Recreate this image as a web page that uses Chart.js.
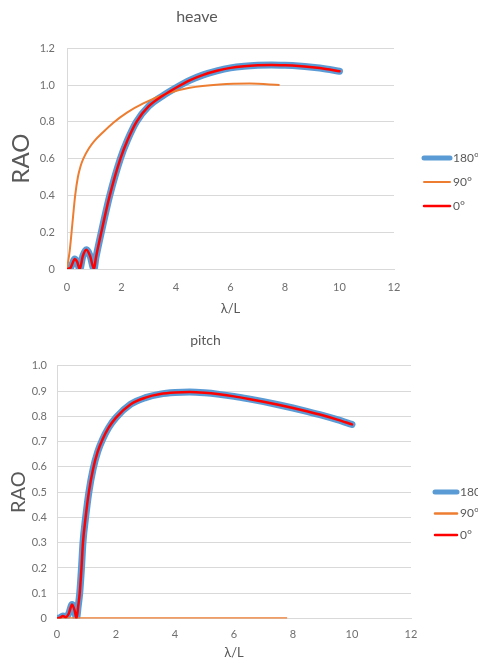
<!DOCTYPE html>
<html lang="en">
<head>
    <meta charset="UTF-8">
    <title>RAO</title>
    <style>
        html, body { margin: 0; padding: 0; background: #fff; overflow: hidden; }
        .box { position: relative; width: 478px; }
    </style>
</head>
<body>
    <div class="box" style="height: 330px;"><canvas id="heaveChart"></canvas></div>
    <div class="box" style="height: 329px;"><canvas id="pitchChart"></canvas></div>

<script src="https://cdn.jsdelivr.net/npm/chart.js"></script>
<script>
// heave, head/following seas (180 and 0 lie on top of each other)
const heaveHeadX = [0, 0.12, 0.2, 0.28, 0.37, 0.47, 0.58, 0.71, 0.85, 0.99, 1.06, 1.26, 1.57, 1.96, 2.22, 2.55, 3, 3.5, 4, 4.5, 5, 5.5, 6, 6.5, 7, 7.5, 8, 8.5, 9, 9.5, 10]
const heave180 = [0, 0.005, 0.03, 0.055, 0.04, 0, 0.07, 0.105, 0.07, 0, 0.06, 0.2, 0.4, 0.6, 0.7, 0.8, 0.885, 0.94, 0.985, 1.025, 1.055, 1.077, 1.093, 1.102, 1.107, 1.109, 1.107, 1.103, 1.096, 1.087, 1.075]
const heave0 = [0, 0.005, 0.03, 0.055, 0.04, 0, 0.07, 0.105, 0.07, 0, 0.06, 0.2, 0.4, 0.6, 0.7, 0.8, 0.885, 0.94, 0.985, 1.025, 1.055, 1.077, 1.093, 1.102, 1.107, 1.109, 1.107, 1.103, 1.096, 1.087, 1.075]
// heave, beam seas
const heaveBeamX = [0, 0.1, 0.2, 0.3, 0.4, 0.5, 0.6, 0.8, 1.0, 1.3, 1.7, 2.2, 2.8, 3.7, 4.5, 5.6, 6.7, 7.8]
const heave90 = [0, 0.1, 0.25, 0.4, 0.5, 0.56, 0.6, 0.655, 0.695, 0.74, 0.795, 0.85, 0.9, 0.955, 0.985, 1.003, 1.008, 1.0]

// pitch
const pitchHeadX = [0, 0.1, 0.2, 0.3, 0.4, 0.51, 0.6, 0.66, 0.72, 0.77, 0.83, 0.88, 0.97, 1.08, 1.22, 1.38, 1.55, 1.75, 2, 2.5, 3, 3.5, 4, 4.5, 5, 5.5, 6, 6.5, 7, 7.5, 8, 8.5, 9, 9.5, 10]
const pitch180 = [0, 0.003, 0.01, 0.005, 0.02, 0.055, 0.03, 0, 0.05, 0.1, 0.2, 0.3, 0.4, 0.5, 0.59, 0.66, 0.71, 0.755, 0.795, 0.848, 0.874, 0.888, 0.894, 0.896, 0.893, 0.887, 0.879, 0.869, 0.858, 0.846, 0.833, 0.819, 0.804, 0.787, 0.768]
const pitch0 = [0, 0.003, 0.01, 0.005, 0.02, 0.055, 0.03, 0, 0.05, 0.1, 0.2, 0.3, 0.4, 0.5, 0.59, 0.66, 0.71, 0.755, 0.795, 0.848, 0.874, 0.888, 0.894, 0.896, 0.893, 0.887, 0.879, 0.869, 0.858, 0.846, 0.833, 0.819, 0.804, 0.787, 0.768]
const pitchBeamX = [0, 2, 4, 6, 7.8]
const pitch90 = [0, 0, 0, 0, 0]

const seriesNames = ['180°', '90°', '0°']
const xTicks = [0, 2, 4, 6, 8, 10, 12]

Chart.defaults.font.family = 'Lato, "Liberation Sans", sans-serif'
Chart.defaults.color = '#6f6f6f'

function pts(xs, ys){
    return xs.map((x, i) => ({x: x, y: ys[i]}))
}

// legend on the right, drawn by hand (line + label)
const sideLegend = {
    id: 'sideLegend',
    afterDraw(chart, args, o){
        const ctx = chart.ctx
        ctx.save()
        chart.data.datasets.forEach((ds, i) => {
            const y = o.y + i * o.gap
            ctx.strokeStyle = ds.borderColor
            ctx.lineWidth = Math.min(ds.borderWidth, 5)
            ctx.lineCap = 'round'
            ctx.beginPath()
            ctx.moveTo(o.x + 2, y)
            ctx.lineTo(o.x + o.len - 2, y)
            ctx.stroke()
            ctx.fillStyle = '#595959'
            ctx.font = '12px Lato, "Liberation Sans", sans-serif'
            ctx.textBaseline = 'middle'
            ctx.fillText(ds.label, o.x + o.len + 1, y)
        })
        ctx.restore()
    }
}

function makeSets(x1, y180, x2, y90, y0, beamWidth){
    return [
        {label: seriesNames[0], data: pts(x1, y180), borderColor: '#5b9bd5', borderWidth: 7, borderCapStyle: 'round', order: 2},
        {label: seriesNames[1], data: pts(x2, y90), borderColor: '#ed7d31', borderWidth: beamWidth, order: 1},
        {label: seriesNames[2], data: pts(x1, y0), borderColor: '#ff0000', borderWidth: 2.5, borderCapStyle: 'round', order: 0}
    ]
}

function makeChart(id, title, sets, o){
    return new Chart(document.getElementById(id), {
        type: 'line',
        data: {datasets: sets},
        options: {
            responsive: true,
            maintainAspectRatio: false,
            animation: false,
            layout: {padding: {left: 0, right: o.right, top: 0, bottom: o.bottom}},
            elements: {
                point: {radius: 0},
                line: {cubicInterpolationMode: 'monotone', fill: false}
            },
            scales: {
                x: {
                    type: 'linear', min: 0, max: 12,
                    afterBuildTicks: s => { s.ticks = xTicks.map(v => ({value: v})) },
                    afterFit: s => { s.height = o.xHeight },
                    grid: {display: false, drawTicks: false},
                    border: {display: true, color: '#d9d9d9'},
                    ticks: {padding: o.xPad, font: {size: 11}, color: '#6f6f6f'},
                    title: {display: true, text: 'λ/L', color: '#595959',
                        font: {size: 13, lineHeight: 1}, padding: {top: 4, bottom: 0}}
                },
                y: {
                    min: 0, max: o.yMax,
                    afterBuildTicks: s => { s.ticks = o.yTicks.map(v => ({value: v})) },
                    afterFit: s => { s.width = o.left },
                    grid: {color: '#d9d9d9', drawTicks: false},
                    border: {display: true, color: '#d9d9d9'},
                    ticks: {padding: o.yPad, font: {size: 11}, color: '#6f6f6f'},
                    title: {display: true, text: 'RAO', color: '#595959',
                        font: {size: o.raoSize}, padding: {top: 7, bottom: 0}}
                }
            },
            plugins: {
                legend: {display: false},
                tooltip: {enabled: false},
                title: {display: true, text: title, color: '#595959',
                    font: {size: o.titleSize, weight: 'normal'}, padding: o.titlePad},
                sideLegend: o.legend
            }
        },
        plugins: [sideLegend]
    })
}

makeChart('heaveChart', 'heave', makeSets(heaveHeadX, heave180, heaveBeamX, heave90, heave0, 2), {
    right: 84, bottom: 15, left: 67, xHeight: 46, xPad: 12, yPad: 12,
    yMax: 1.2, yTicks: [0, 0.2, 0.4, 0.6, 0.8, 1, 1.2], raoSize: 24,
    titleSize: 16, titlePad: {top: 7, bottom: 22},
    legend: {x: 422, y: 158, gap: 24, len: 30}
})

makeChart('pitchChart', 'pitch', makeSets(pitchHeadX, pitch180, pitchBeamX, pitch90, pitch0, 2.5), {
    right: 67, bottom: 0, left: 57, xHeight: 40.5, xPad: 9, yPad: 10,
    yMax: 1, yTicks: [0, 0.1, 0.2, 0.3, 0.4, 0.5, 0.6, 0.7, 0.8, 0.9, 1], raoSize: 20,
    titleSize: 14, titlePad: {top: 2, bottom: 17},
    legend: {x: 433, y: 162, gap: 21.5, len: 26}
})
</script>
</body>
</html>
